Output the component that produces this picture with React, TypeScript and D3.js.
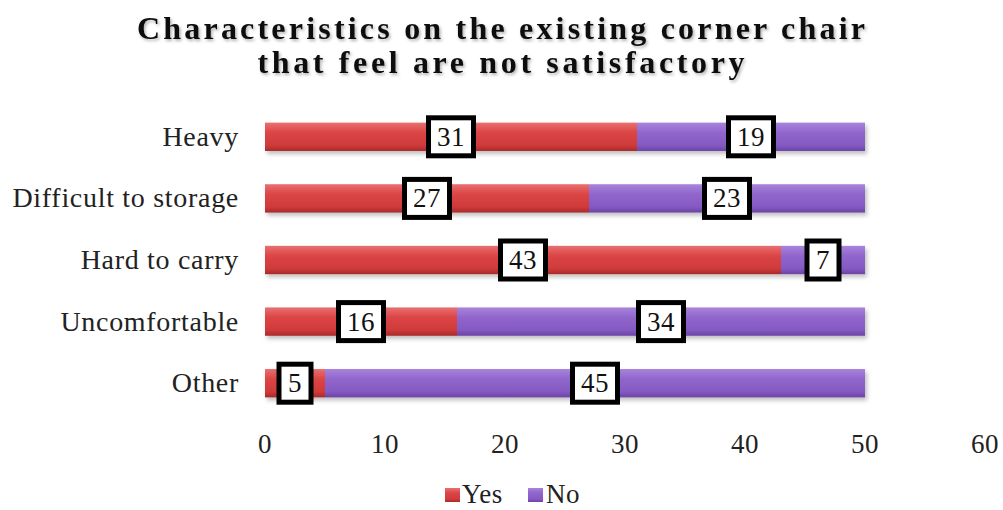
import React from "react";
import * as d3 from "d3";

const CATEGORIES = ["Heavy", "Difficult to storage", "Hard to carry", "Uncomfortable", "Other"];
const YES = [31, 27, 43, 16, 5];
const NO = [19, 23, 7, 34, 45];
const TICKS = [0, 10, 20, 30, 40, 50, 60];
const TITLE = ["Characteristics on the existing corner chair", "that feel are not satisfactory"];

const W = 1003;
const H = 510;
const FONT = "'Liberation Serif', 'Times New Roman', serif";

export default function App() {
  const x = d3.scaleLinear().domain([0, 60]).range([265, 985]);
  const y = d3.scaleBand().domain(CATEGORIES).range([106, 414]).paddingInner(0.54).paddingOuter(0.27);
  const bh = y.bandwidth();

  const series = [
    { key: "Yes", values: YES, grad: "gYes" },
    { key: "No", values: NO, grad: "gNo" },
  ];

  // title widths
  const titleLen = [728, 487];

  return (
    <svg width={W} height={H} style={{ display: "block", position: "absolute", left: 0, top: 0, background: "#fff" }}>
      <defs>
        <linearGradient id="gYes" x1="0" y1="0" x2="0" y2="1">
          <stop offset="0" stopColor="#e87070" />
          <stop offset="0.35" stopColor="#dc4545" />
          <stop offset="0.8" stopColor="#cf3a3a" />
          <stop offset="1" stopColor="#a82a2a" />
        </linearGradient>
        <linearGradient id="gNo" x1="0" y1="0" x2="0" y2="1">
          <stop offset="0" stopColor="#a784dc" />
          <stop offset="0.35" stopColor="#9166cc" />
          <stop offset="0.8" stopColor="#8459c2" />
          <stop offset="1" stopColor="#6a44a2" />
        </linearGradient>
        <filter id="shadow" x="-5%" y="-20%" width="110%" height="160%">
          <feDropShadow dx="2" dy="3" stdDeviation="2" floodColor="#000" floodOpacity="0.25" />
        </filter>
        <filter id="tshadow" x="-5%" y="-30%" width="110%" height="160%">
          <feDropShadow dx="1.5" dy="2" stdDeviation="1.5" floodColor="#000" floodOpacity="0.3" />
        </filter>
      </defs>

      {TITLE.map((t, i) => (
        <text key={i} x={501} y={39 + i * 34} textAnchor="middle" fontFamily={FONT} fontWeight="bold"
          fontSize={32} textLength={titleLen[i]} lengthAdjust="spacing" fill="#111" filter="url(#tshadow)">{t}</text>
      ))}

      {CATEGORIES.map((c, i) => {
        let acc = 0;
        return (
          <g key={c}>
            <text x={239} y={(y(c) as number) + bh / 2 + 9} textAnchor="end" fontFamily={FONT} fontSize={28}
              letterSpacing={0.7} fill="#222">{c}</text>
            <g filter="url(#shadow)">
              {series.map((s) => {
                const x0 = acc;
                acc += s.values[i];
                return (
                  <rect key={s.key} x={x(x0)} y={y(c)} width={x(acc) - x(x0)} height={bh} fill={`url(#${s.grad})`} />
                );
              })}
            </g>
          </g>
        );
      })}

      {CATEGORIES.map((c, i) => {
        let acc = 0;
        return series.map((s) => {
          const v = s.values[i];
          const mid = x(acc + v / 2);
          acc += v;
          const cy = (y(c) as number) + bh / 2;
          const bw = String(v).length > 1 ? 45 : 32;
          return (
            <g key={c + s.key}>
              <rect x={mid - bw / 2} y={cy - 19} width={bw} height={38} fill="#fff" stroke="#000" strokeWidth={5} />
              <text x={mid} y={cy + 9} textAnchor="middle" fontFamily={FONT} fontSize={27} letterSpacing={0.5} fill="#111">{v}</text>
            </g>
          );
        });
      })}

      {TICKS.map((t) => (
        <text key={t} x={x(t)} y={453} textAnchor="middle" fontFamily={FONT} fontSize={27} letterSpacing={0.5} fill="#222">{t}</text>
      ))}

      <g>
        <rect x={445} y={488} width={15} height={14} fill="url(#gYes)" />
        <text x={462} y={503} fontFamily={FONT} fontSize={27} letterSpacing={0.5} fill="#222">Yes</text>
        <rect x={528} y={488} width={15} height={14} fill="url(#gNo)" />
        <text x={546} y={503} fontFamily={FONT} fontSize={27} letterSpacing={0.5} fill="#222">No</text>
      </g>
    </svg>
  );
}
